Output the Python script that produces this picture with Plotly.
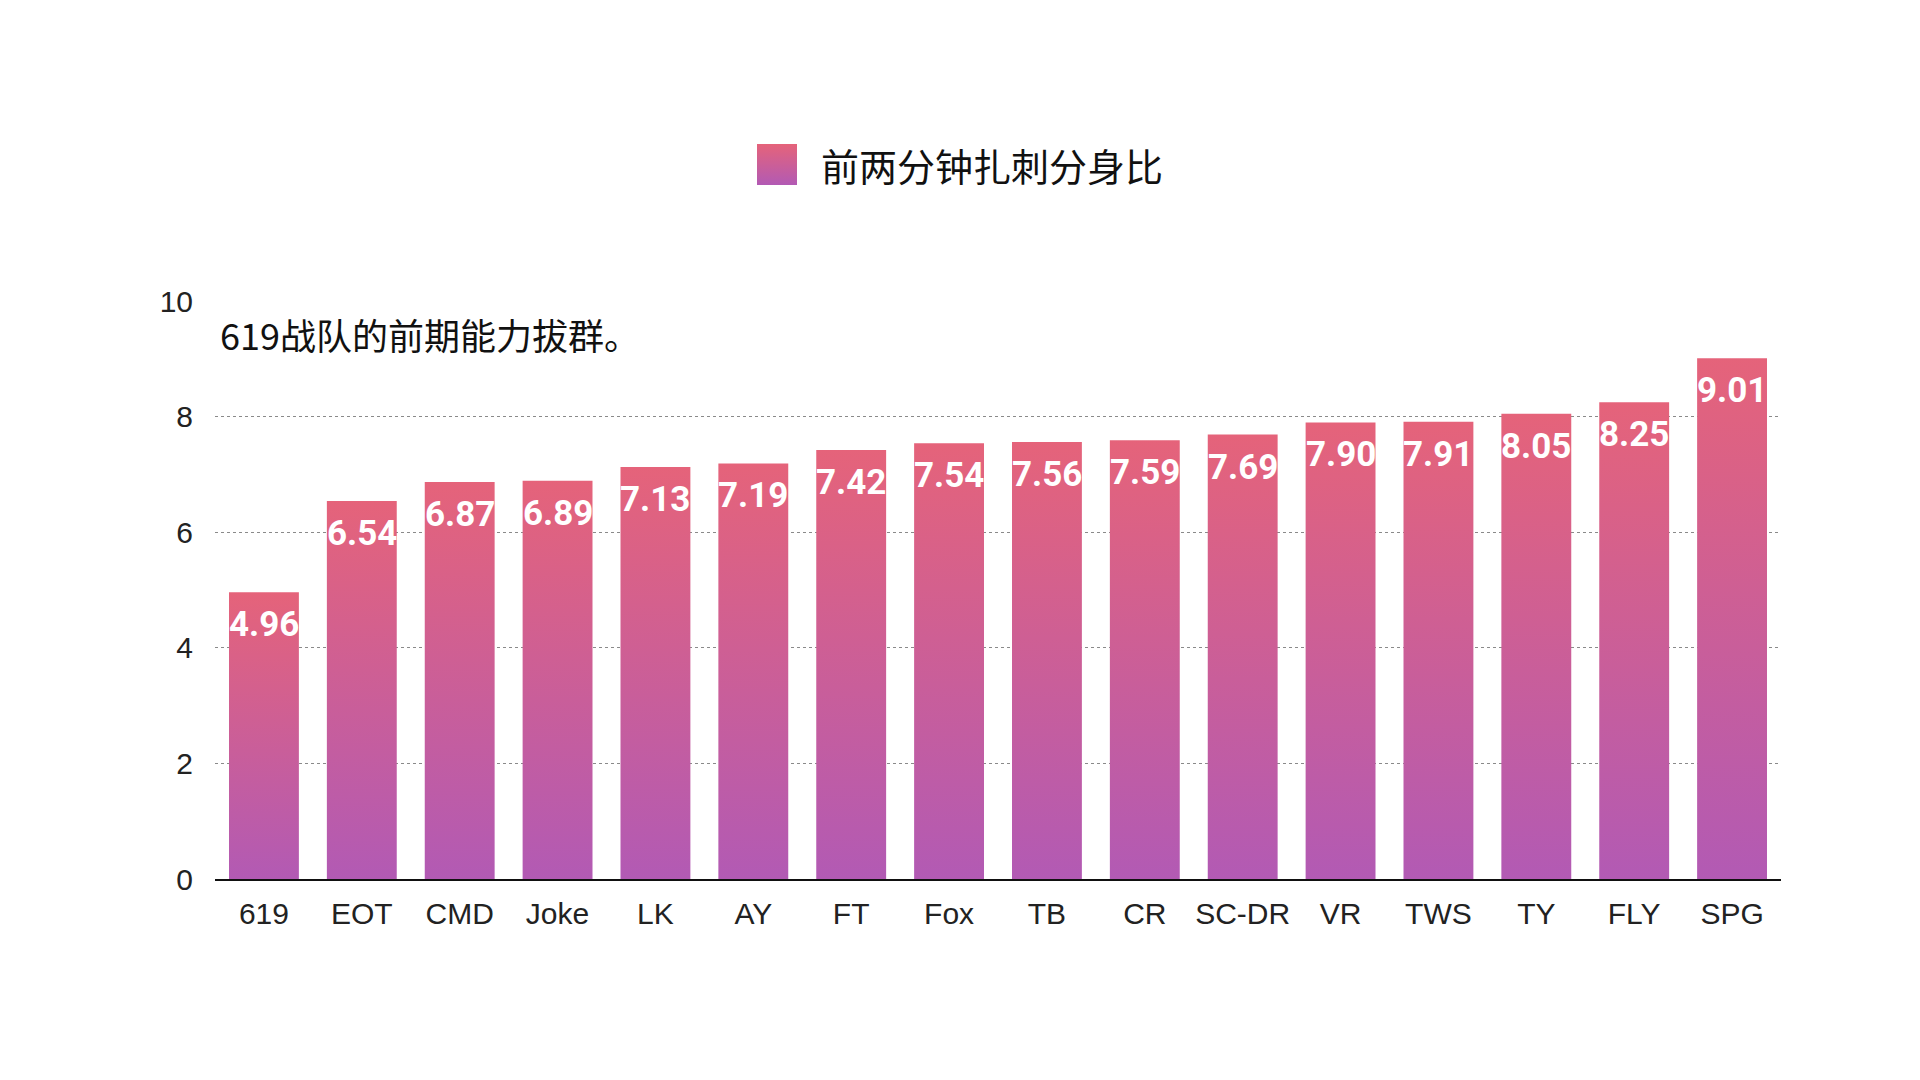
import base64
import plotly.graph_objects as go

teams = ["619", "EOT", "CMD", "Joke", "LK", "AY", "FT", "Fox", "TB", "CR",
         "SC-DR", "VR", "TWS", "TY", "FLY", "SPG"]
values = [4.96, 6.54, 6.87, 6.89, 7.13, 7.19, 7.42, 7.54, 7.56, 7.59,
          7.69, 7.90, 7.91, 8.05, 8.25, 9.01]
series_name = "前两分钟扎刺分身比"
note_text = "619战队的前期能力拔群。"
y_ticks = [0, 2, 4, 6, 8, 10]

PINK = "#E5637A"
PURPLE = "#B25AB4"
HALF = 0.357

fig = go.Figure()
for i, (t, v) in enumerate(zip(teams, values)):
    fig.add_trace(go.Scatter(
        x=[i - HALF, i - HALF, i + HALF, i + HALF, i - HALF],
        y=[0, v, v, 0, 0],
        mode="lines",
        line=dict(width=0, color=PINK),
        fill="toself",
        fillgradient=dict(type="vertical",
                          colorscale=[[0, PURPLE], [1, PINK]]),
        name=series_name,
        showlegend=False,
        hoverinfo="text",
        text=f"{t}: {v:.2f}",
    ))

for i, v in enumerate(values):
    fig.add_annotation(
        x=i, y=v, xref="x", yref="y",
        text=f"{v:.2f}", showarrow=False,
        yanchor="top", yshift=-10,
        font=dict(family="Roboto", size=35, color="white", weight="bold"),
    )

# custom legend: gradient square + label
svg = ('<svg xmlns="http://www.w3.org/2000/svg" width="40" height="40">'
       '<defs><linearGradient id="g" x1="0" y1="0" x2="0" y2="1">'
       f'<stop offset="0" stop-color="{PINK}"/>'
       f'<stop offset="1" stop-color="{PURPLE}"/>'
       '</linearGradient></defs>'
       '<rect width="40" height="40" fill="url(#g)"/></svg>')
src = "data:image/svg+xml;base64," + base64.b64encode(svg.encode()).decode()

L, T, B = 207, 293, 871
PW, PH = 1566, B - T
fig.add_layout_image(
    source=src, xref="paper", yref="paper",
    x=(749 - L) / PW, y=(B - 136) / PH,
    sizex=40 / PW, sizey=41 / PH,
    xanchor="left", yanchor="top", sizing="stretch", layer="above",
)
fig.add_annotation(
    x=(811 - L) / PW, y=(B - 157) / PH, xref="paper", yref="paper",
    xanchor="left", yanchor="middle",
    text=series_name, showarrow=False,
    font=dict(family="Noto Sans CJK SC", size=38, color="#111"),
)

fig.add_annotation(
    x=0, y=0.943, xref="paper", yref="paper",
    xanchor="left", yanchor="middle", xshift=3,
    text=note_text, showarrow=False,
    font=dict(family="Noto Sans CJK SC", size=36, color="#111"),
)

fig.update_layout(
    width=1920, height=1080,
    paper_bgcolor="white", plot_bgcolor="white",
    margin=dict(l=L, r=1920 - L - PW, t=T, b=1080 - B),
    font=dict(family="Liberation Sans, Noto Sans CJK SC", color="#222"),
    showlegend=False,
    xaxis=dict(
        range=[-0.5, len(teams) - 0.5],
        tickmode="array",
        tickvals=list(range(len(teams))),
        ticktext=teams,
        showgrid=False, zeroline=False,
        showline=True, linecolor="#111", linewidth=1.5,
        ticks="", ticklabelstandoff=7,
        tickfont=dict(size=30, color="#222"),
        fixedrange=True,
    ),
    yaxis=dict(
        range=[0, 10],
        tickmode="array", tickvals=y_ticks,
        showgrid=True, gridcolor="#8a8a8a", griddash="dot", gridwidth=1,
        zeroline=False, showline=False,
        ticks="", ticklabelstandoff=21,
        tickfont=dict(size=30, color="#222"),
        fixedrange=True,
    ),
)

fig.write_html("out.html")
